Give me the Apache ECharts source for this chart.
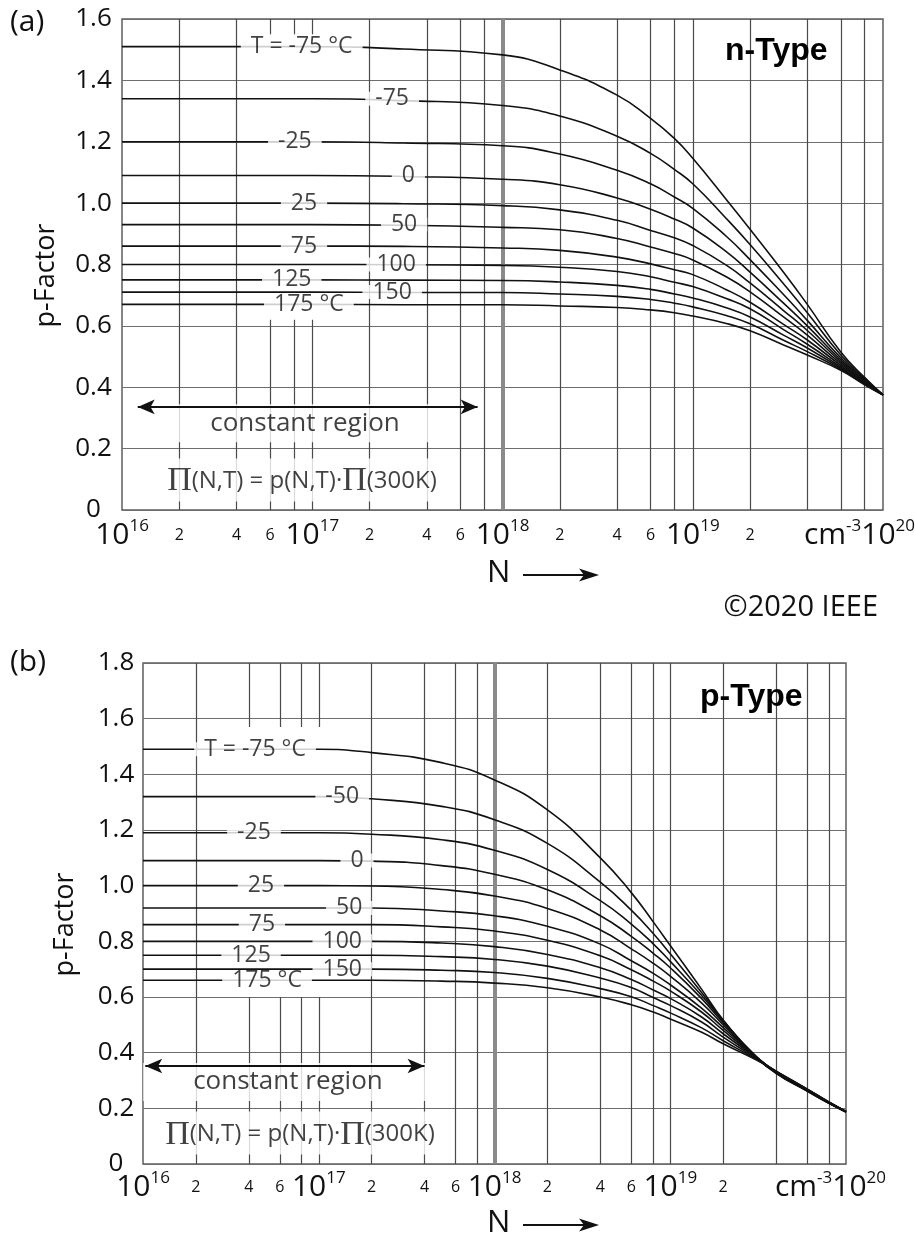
<!DOCTYPE html>
<html>
<head>
<meta charset="utf-8">
<title>p-Factor vs. doping concentration</title>
<script src="https://cdn.jsdelivr.net/npm/echarts@6.0.0/dist/echarts.min.js"></script>
<style>
  html, body { margin: 0; padding: 0; background: #ffffff; }
  #chart { width: 915px; height: 1239px; }
</style>
</head>
<body>
<div id="chart"></div>
<script>
// ---------- (a) n-type: doping N (cm^-3) and p-factor per temperature ----------
const nA = [1e16, 1e17, 3e17, 1e18, 2e18, 4e18, 6e18, 8e18, 1e19, 1.5e19, 2e19, 3e19, 4e19, 6e19, 8e19, 1e20];
const nType_m75 = [1.51, 1.51, 1.502, 1.483, 1.434, 1.352, 1.276, 1.211, 1.146, 1.012, 0.915, 0.775, 0.670, 0.515, 0.432, 0.375];
const nType_m50 = [1.34, 1.34, 1.334, 1.318, 1.284, 1.218, 1.162, 1.110, 1.063, 0.950, 0.865, 0.737, 0.643, 0.505, 0.429, 0.375];
const nType_m25 = [1.20, 1.20, 1.196, 1.187, 1.160, 1.107, 1.063, 1.020, 0.983, 0.892, 0.816, 0.702, 0.618, 0.496, 0.426, 0.375];
const nType_0   = [1.09, 1.09, 1.087, 1.078, 1.060, 1.017, 0.980, 0.948, 0.919, 0.842, 0.775, 0.674, 0.600, 0.489, 0.423, 0.375];
const nType_25  = [1.00, 1.00, 0.998, 0.992, 0.978, 0.944, 0.911, 0.887, 0.862, 0.798, 0.740, 0.650, 0.585, 0.483, 0.420, 0.375];
const nType_50  = [0.93, 0.93, 0.928, 0.921, 0.913, 0.885, 0.857, 0.836, 0.815, 0.760, 0.711, 0.629, 0.570, 0.477, 0.417, 0.375];
const nType_75  = [0.86, 0.86, 0.859, 0.854, 0.846, 0.824, 0.802, 0.783, 0.767, 0.718, 0.677, 0.605, 0.554, 0.471, 0.415, 0.375];
const nType_100 = [0.80, 0.80, 0.799, 0.797, 0.791, 0.777, 0.760, 0.742, 0.728, 0.689, 0.656, 0.588, 0.540, 0.466, 0.413, 0.375];
const nType_125 = [0.75, 0.75, 0.749, 0.748, 0.743, 0.732, 0.719, 0.704, 0.691, 0.659, 0.629, 0.570, 0.528, 0.462, 0.411, 0.375];
const nType_150 = [0.71, 0.71, 0.709, 0.709, 0.704, 0.696, 0.686, 0.674, 0.662, 0.634, 0.607, 0.553, 0.516, 0.458, 0.410, 0.375];
const nType_175 = [0.67, 0.67, 0.669, 0.669, 0.665, 0.660, 0.652, 0.643, 0.632, 0.608, 0.584, 0.538, 0.505, 0.455, 0.408, 0.375];

// ---------- (b) p-type ----------
const nB = [1e16, 1e17, 2e17, 5e17, 1e18, 2e18, 4e18, 6e18, 8e18, 1e19, 1.5e19, 2e19, 3e19, 4e19, 6e19, 8e19, 1e20];
const pType_m75 = [1.49, 1.49, 1.478, 1.442, 1.380, 1.272, 1.100, 0.975, 0.870, 0.785, 0.630, 0.517, 0.392, 0.326, 0.262, 0.218, 0.187];
const pType_m50 = [1.32, 1.32, 1.312, 1.285, 1.237, 1.152, 1.013, 0.912, 0.828, 0.755, 0.618, 0.516, 0.393, 0.327, 0.263, 0.218, 0.187];
const pType_m25 = [1.19, 1.19, 1.185, 1.165, 1.127, 1.058, 0.946, 0.862, 0.791, 0.728, 0.607, 0.513, 0.393, 0.328, 0.264, 0.219, 0.187];
const pType_0   = [1.09, 1.09, 1.088, 1.072, 1.041, 0.985, 0.892, 0.818, 0.757, 0.705, 0.596, 0.508, 0.393, 0.329, 0.265, 0.219, 0.188];
const pType_25  = [1.00, 1.00, 0.999, 0.986, 0.963, 0.918, 0.841, 0.773, 0.721, 0.675, 0.580, 0.500, 0.392, 0.330, 0.266, 0.220, 0.188];
const pType_50  = [0.92, 0.92, 0.920, 0.909, 0.892, 0.854, 0.790, 0.730, 0.685, 0.644, 0.561, 0.490, 0.391, 0.331, 0.267, 0.220, 0.188];
const pType_75  = [0.86, 0.86, 0.860, 0.852, 0.837, 0.804, 0.748, 0.698, 0.657, 0.622, 0.547, 0.480, 0.390, 0.331, 0.267, 0.221, 0.188];
const pType_100 = [0.80, 0.80, 0.800, 0.794, 0.781, 0.753, 0.705, 0.663, 0.625, 0.595, 0.529, 0.468, 0.388, 0.332, 0.268, 0.221, 0.189];
const pType_125 = [0.75, 0.75, 0.750, 0.745, 0.735, 0.711, 0.668, 0.634, 0.598, 0.570, 0.511, 0.456, 0.384, 0.333, 0.269, 0.222, 0.189];
const pType_150 = [0.70, 0.70, 0.700, 0.696, 0.688, 0.667, 0.630, 0.601, 0.569, 0.543, 0.490, 0.443, 0.381, 0.333, 0.269, 0.222, 0.189];
const pType_175 = [0.66, 0.66, 0.660, 0.657, 0.650, 0.633, 0.600, 0.572, 0.546, 0.521, 0.474, 0.432, 0.378, 0.334, 0.270, 0.223, 0.189];

// temperature tags written on the flat part of each curve, and the N where each sits
const tagsA = ['T = -75 °C', '-75', '-25', '0', '25', '50', '75', '100', '125', '150', '175 °C'];
const tagsB = ['T = -75 °C', '-50', '-25', '0', '25', '50', '75', '100', '125', '150', '175 °C'];
const tagAtA = [8.8e16, 2.63e17, 8.1e16, 3.2e17, 9.05e16, 3.04e17, 9.05e16, 2.76e17, 7.8e16, 2.63e17, 9.6e16];
const tagAtB = [4.34e16, 1.36e17, 4.28e16, 1.65e17, 4.69e16, 1.49e17, 4.75e16, 1.36e17, 4.12e16, 1.36e17, 5.08e16];

// axis labels and grid
const xTicks = [1e16, 2e16, 4e16, 6e16, 1e17, 2e17, 4e17, 6e17, 1e18, 2e18, 4e18, 6e18, 1e19, 2e19, 1e20];
const gridLinesA = [2e16, 4e16, 2e17, 4e17, 6e17, 8e17, 2e18, 4e18, 6e18, 8e18, 1e19, 2e19, 4e19, 6e19, 8e19];
const brokenLinesA = [6e16, 8e16, 1e17];
const brokenSpansA = [[0, 0.62], [1.55, 1.6]];
const gridLinesB = [2e16, 2e17, 4e17, 6e17, 8e17, 2e18, 4e18, 6e18, 8e18, 1e19, 2e19, 4e19, 6e19, 8e19];
const brokenLinesB = [4e16, 6e16, 8e16, 1e17];
const brokenSpansB = [[0, 0.6], [1.57, 1.8]];

const curvesA = [nType_m75, nType_m50, nType_m25, nType_0, nType_25, nType_50, nType_75, nType_100, nType_125, nType_150, nType_175];
const curvesB = [pType_m75, pType_m50, pType_m25, pType_0, pType_25, pType_50, pType_75, pType_100, pType_125, pType_150, pType_175];

// ---------- styling ----------
const FONT = '"Open Sans", "Noto Sans", sans-serif';
const SERIF = '"Liberation Serif", "DejaVu Serif", serif';
const INK = '#111111';
const RULE = '#4a4a4a';

function tickText(v) {
  let e = Math.floor(Math.log10(v) + 1e-9);
  let m = Math.round(v / Math.pow(10, e));
  if (m === 10) { m = 1; e += 1; }
  if (m !== 1) return '{m|' + m + '}';
  if (e === 20) return '{u|cm}{s|-3}{d|10}{s|20}{g| }';
  return '{d|10}{s|' + e + '}';
}

function tickRich(unitGap) {
  return {
    d: { fontFamily: FONT, fontSize: 30, color: INK, lineHeight: 34, verticalAlign: 'middle' },
    u: { fontFamily: FONT, fontSize: 30, color: INK, lineHeight: 34, verticalAlign: 'middle' },
    s: { fontFamily: FONT, fontSize: 17, color: INK, lineHeight: 20, verticalAlign: 'top' },
    m: { fontFamily: FONT, fontSize: 16, color: INK, lineHeight: 34, verticalAlign: 'middle' },
    g: { width: unitGap, lineHeight: 34 }
  };
}

function xAxisCfg(gi, margin, unitGap) {
  return {
    type: 'log', logBase: 10, gridIndex: gi, min: 1e16, max: 1e20,
    axisLine: { show: false }, axisTick: { show: false },
    splitLine: { show: false }, minorTick: { show: false }, minorSplitLine: { show: false },
    axisLabel: { customValues: xTicks, margin: margin, formatter: tickText, rich: tickRich(unitGap) }
  };
}

function yAxisCfg(gi, max, margin, nameGap) {
  return {
    type: 'value', gridIndex: gi, min: 0, max: max, interval: 0.2,
    axisLine: { show: false }, axisTick: { show: false },
    splitLine: { show: true, lineStyle: { color: '#6e6e6e', width: 1.2 } },
    axisLabel: {
      formatter: v => (v === 0 ? '0' : v.toFixed(1)),
      fontFamily: FONT, fontSize: 26, color: INK, align: 'center', margin: margin
    },
    name: 'p-Factor', nameLocation: 'middle', nameRotate: 90, nameGap: nameGap, nameMoveOverlap: false,
    nameTextStyle: { fontFamily: FONT, fontSize: 27, color: INK, padding: [0, 22, 0, 0] }
  };
}

function curveSeries(n, curves, gi) {
  return curves.map((vals, k) => ({
    name: 'curve' + gi + '_' + k,
    type: 'line', xAxisIndex: gi, yAxisIndex: gi, z: 3, silent: true,
    data: n.map((x, i) => [x, vals[i]]),
    showSymbol: false, symbol: 'none', smooth: 0.5,
    lineStyle: { color: INK, width: 1.6 }
  }));
}

function gridSeries(gi, full, broken, spans) {
  const data = full.map(v => ({ xAxis: v }));
  broken.forEach(v => spans.forEach(s => data.push([{ coord: [v, s[0]] }, { coord: [v, s[1]] }])));
  data.push({ xAxis: 1e18, lineStyle: { color: '#8a8a8a', width: 4 } });
  return {
    type: 'line', xAxisIndex: gi, yAxisIndex: gi, data: [], z: 1, silent: true,
    markLine: {
      z: 1, silent: true, symbol: 'none', animation: false, label: { show: false },
      emphasis: { disabled: true },
      lineStyle: { type: 'solid', color: RULE, width: 1.2 }, data: data
    }
  };
}

function tagSeries(gi, curves, at, tags) {
  return {
    type: 'scatter', xAxisIndex: gi, yAxisIndex: gi, z: 4, silent: true,
    symbolSize: 1, itemStyle: { color: 'rgba(0,0,0,0)' },
    data: at.map((x, i) => [x, curves[i][0]]),
    label: {
      show: true, position: 'inside', formatter: p => tags[p.dataIndex],
      fontFamily: FONT, fontSize: 23, color: INK,
      backgroundColor: '#ffffff', lineHeight: 14, padding: [0, 10]
    }
  };
}

// "constant region" caption and the formula, each on a white patch
function noteSeries(gi, regionAt, formulaAt) {
  return {
    type: 'scatter', xAxisIndex: gi, yAxisIndex: gi, z: 4, silent: true,
    symbolSize: 1, itemStyle: { color: 'rgba(0,0,0,0)' },
    data: [
      { value: regionAt, label: { formatter: 'constant region', fontFamily: FONT, fontSize: 26, color: INK,
          lineHeight: 28, padding: [8, 50, 2, 50], backgroundColor: '#ffffff' } },
      { value: formulaAt, label: { formatter: '{pi|Π}{t|(N,T) = p(N,T)·}{pi|Π}{t|(300K)}', lineHeight: 32,
          padding: [7, 18, 4, 18], backgroundColor: '#ffffff',
          rich: {
            pi: { fontFamily: SERIF, fontSize: 34, color: INK, lineHeight: 32 },
            t: { fontFamily: FONT, fontSize: 24, color: INK, lineHeight: 32 }
          } } }
    ],
    label: { show: true, position: 'inside' }
  };
}

function arrowSeries(gi, from, to) {
  return {
    type: 'line', xAxisIndex: gi, yAxisIndex: gi, data: [], z: 6, silent: true,
    markLine: {
      z: 6, silent: true, animation: false, symbol: ['arrow', 'arrow'], symbolSize: [11, 17],
      label: { show: false }, emphasis: { disabled: true },
      lineStyle: { type: 'solid', color: INK, width: 2 },
      itemStyle: { color: INK },
      data: [[{ coord: from }, { coord: to }]]
    }
  };
}

function nArrow(cy) {
  return {
    type: 'group', z: 20, children: [
      { type: 'text', x: 487, y: cy, style: { text: 'N', font: '31px ' + FONT, fill: INK, verticalAlign: 'middle' } },
      { type: 'line', shape: { x1: 523, y1: cy + 2, x2: 586, y2: cy + 2 }, style: { stroke: INK, lineWidth: 2 } },
      { type: 'polygon', shape: { points: [[599, cy + 2], [579, cy - 4.5], [584, cy + 2], [579, cy + 8.5]] }, style: { fill: INK } }
    ]
  };
}

const chart = echarts.init(document.getElementById('chart'), null, { renderer: 'canvas' });

chart.setOption({
  animation: false,
  backgroundColor: '#ffffff',
  grid: [
    { left: 122, top: 19, width: 761, height: 491, show: true, borderColor: '#5e5e5e', borderWidth: 1.5,
      backgroundColor: 'transparent', containLabel: false, outerBoundsMode: 'none' },
    { left: 143, top: 663, width: 703, height: 501, show: true, borderColor: '#5e5e5e', borderWidth: 1.5,
      backgroundColor: 'transparent', containLabel: false, outerBoundsMode: 'none' }
  ],
  xAxis: [xAxisCfg(0, 8, 47), xAxisCfg(1, 6, 31)],
  yAxis: [yAxisCfg(0, 1.6, 28.5, 62), yAxisCfg(1, 1.8, 27, 64)],
  series: [
    gridSeries(0, gridLinesA, brokenLinesA, brokenSpansA),
    gridSeries(1, gridLinesB, brokenLinesB, brokenSpansB),
    ...curveSeries(nA, curvesA, 0),
    ...curveSeries(nB, curvesB, 1),
    tagSeries(0, curvesA, tagAtA, tagsA),
    tagSeries(1, curvesB, tagAtB, tagsB),
    noteSeries(0, [9.16e16, 0.283], [8.83e16, 0.098]),
    noteSeries(1, [6.68e16, 0.295], [7.82e16, 0.111]),
    arrowSeries(0, [1.21e16, 0.336], [7.4e17, 0.336]),
    arrowSeries(1, [1.03e16, 0.352], [4.0e17, 0.352])
  ],
  graphic: [
    { type: 'text', x: 10, y: 22, z: 20, style: { text: '(a)', font: '30px ' + FONT, fill: INK, verticalAlign: 'middle' } },
    { type: 'text', x: 10, y: 662, z: 20, style: { text: '(b)', font: '30px ' + FONT, fill: INK, verticalAlign: 'middle' } },
    { type: 'text', x: 725, y: 51, z: 20, style: { text: 'n-Type', font: 'bold 32px "Liberation Sans", Arial, sans-serif', fill: '#000', verticalAlign: 'middle' } },
    { type: 'text', x: 700, y: 697, z: 20, style: { text: 'p-Type', font: 'bold 32px "Liberation Sans", Arial, sans-serif', fill: '#000', verticalAlign: 'middle' } },
    { type: 'text', x: 878, y: 608, z: 20, style: { text: '©2020 IEEE', font: '29px ' + FONT, fill: INK, align: 'right', verticalAlign: 'middle' } },
    nArrow(573),
    nArrow(1223)
  ]
});
</script>
</body>
</html>
